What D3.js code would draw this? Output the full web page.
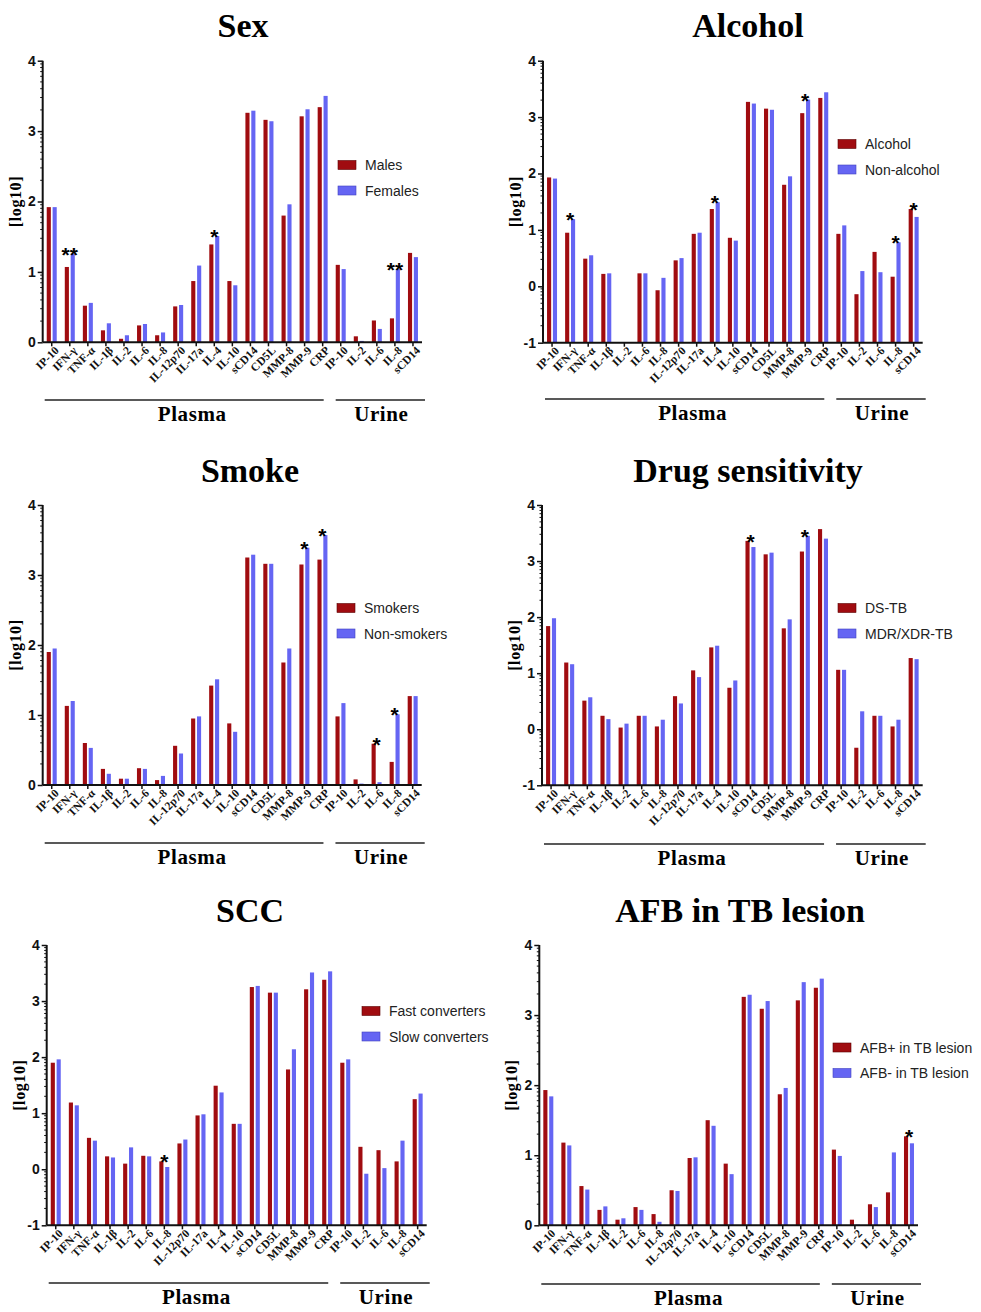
<!DOCTYPE html>
<html><head><meta charset="utf-8">
<script src="https://cdn.jsdelivr.net/npm/d3@7"></script>
<style>body{margin:0;background:#fff}</style>
</head><body>
<svg id="c" width="981" height="1312"></svg>
<script>
// ---------- data ----------
const categories = ["IP-10","IFN-γ","TNF-α","IL-1β","IL-2","IL-6","IL-8","IL-12p70","IL-17a","IL-4","IL-10","sCD14","CD5L","MMP-8","MMP-9","CRP","IP-10","IL-2","IL-6","IL-8","sCD14"];
const plasmaCount = 16;
const sampleLabels = ["Plasma","Urine"];
const yTicksPos = [0,1,2,3,4];
const yTicksNeg = [-1,0,1,2,3,4];

const sexMales     = [1.92,1.07,0.52,0.17,0.05,0.24,0.10,0.51,0.87,1.39,0.87,3.26,3.16,1.80,3.21,3.34,1.10,0.085,0.31,0.34,1.27];
const sexFemales   = [1.92,1.26,0.56,0.27,0.10,0.26,0.14,0.53,1.09,1.51,0.81,3.29,3.14,1.96,3.31,3.50,1.04,0.02,0.19,1.04,1.21];
const sexStars     = [[1,"**"],[9,"*"],[19,"**"]];

const alcoholYes   = [1.93,0.95,0.49,0.22,null,0.23,-0.07,0.46,0.93,1.37,0.86,3.27,3.15,1.80,3.07,3.34,0.93,-0.14,0.61,0.17,1.37];
const alcoholNo    = [1.91,1.19,0.55,0.23,null,0.23,0.15,0.50,0.95,1.49,0.81,3.24,3.13,1.95,3.31,3.44,1.08,0.27,0.25,0.78,1.23];
const alcoholStars = [[1,"*"],[9,"*"],[14,"*"],[19,"*"],[20,"*"]];

const smokers      = [1.90,1.13,0.60,0.23,0.09,0.24,0.07,0.56,0.95,1.42,0.88,3.25,3.16,1.75,3.15,3.22,0.98,0.08,0.59,0.33,1.27];
const nonSmokers   = [1.95,1.20,0.53,0.16,0.09,0.23,0.13,0.45,0.98,1.51,0.76,3.29,3.16,1.95,3.39,3.57,1.17,0.02,0.04,1.01,1.27];
const smokeStars   = [[14,"*"],[15,"*"],[18,"*"],[19,"*"]];

const dsTB         = [1.84,1.19,0.51,0.24,0.03,0.24,0.05,0.59,1.05,1.46,0.74,3.36,3.12,1.80,3.17,3.57,1.06,-0.33,0.24,0.05,1.27];
const mdrTB        = [1.98,1.16,0.57,0.18,0.10,0.24,0.17,0.46,0.93,1.49,0.87,3.25,3.15,1.96,3.45,3.40,1.06,0.32,0.24,0.17,1.25];
const drugStars    = [[11,"*"],[14,"*"]];

const fastConv     = [1.90,1.19,0.56,0.23,0.10,0.24,0.14,0.46,0.96,1.49,0.81,3.25,3.15,1.78,3.21,3.38,1.90,0.40,0.34,0.14,1.25];
const slowConv     = [1.96,1.14,0.51,0.21,0.39,0.23,0.04,0.53,0.98,1.37,0.81,3.27,3.15,2.14,3.51,3.53,1.96,-0.08,0.02,0.51,1.35];
const sccStars     = [[6,"*"]];

const afbPos       = [1.93,1.18,0.56,0.22,0.08,0.26,0.16,0.50,0.96,1.50,0.88,3.26,3.09,1.87,3.21,3.39,1.08,0.08,0.30,0.47,1.27];
const afbNeg       = [1.84,1.14,0.51,0.27,0.10,0.22,0.05,0.49,0.97,1.42,0.73,3.29,3.20,1.96,3.47,3.52,0.99,0.01,0.26,1.04,1.17];
const afbStars     = [[20,"*"]];

const seriesColors = ["#a00c10","#6565f3"];

// ---------- layout ----------
const panels = [
  {title:"Sex", names:["Males","Females"], a:sexMales, b:sexFemales, stars:sexStars, ticks:yTicksPos,
   x0:42.7, x1:422, yT:60.7, yB:342.3, tx:243, ty:37, lx:338, ly:165, lineY:400},
  {title:"Alcohol", names:["Alcohol","Non-alcohol"], a:alcoholYes, b:alcoholNo, stars:alcoholStars, ticks:yTicksNeg,
   x0:543, x1:922.7, yT:60.7, yB:342.7, tx:748, ty:37, lx:838, ly:144, lineY:399},
  {title:"Smoke", names:["Smokers","Non-smokers"], a:smokers, b:nonSmokers, stars:smokeStars, ticks:yTicksPos,
   x0:42.7, x1:421.7, yT:505, yB:785, tx:250, ty:482, lx:337, ly:608, lineY:843},
  {title:"Drug sensitivity", names:["DS-TB","MDR/XDR-TB"], a:dsTB, b:mdrTB, stars:drugStars, ticks:yTicksNeg,
   x0:542, x1:922.7, yT:505, yB:785.3, tx:748, ty:482, lx:838, ly:608, lineY:844},
  {title:"SCC", names:["Fast converters","Slow converters"], a:fastConv, b:slowConv, stars:sccStars, ticks:yTicksNeg,
   x0:46.7, x1:426.7, yT:945, yB:1225.3, tx:250, ty:922, lx:362, ly:1011, lineY:1283},
  {title:"AFB in TB lesion", names:["AFB+ in TB lesion","AFB- in TB lesion"], a:afbPos, b:afbNeg, stars:afbStars, ticks:yTicksPos,
   x0:539.3, x1:918, yT:945, yB:1225.3, tx:740, ty:922, lx:833, ly:1047.5, lineY:1284}
];

const svg = d3.select("#c");
const serif = "'Liberation Serif','Times New Roman',serif";
const sans = "'Liberation Sans',Arial,Helvetica,sans-serif";

panels.forEach(p => {
  const g = svg.append("g");
  const idx = d3.range(categories.length);
  const x = d3.scaleBand().domain(idx).range([p.x0, p.x1]).paddingOuter(0);
  const xs = d3.scaleBand().domain([0,1]).range([0, 10]).paddingInner(0.3);
  const yMin = p.ticks[0], yMax = p.ticks[p.ticks.length-1];
  const y = d3.scaleLinear().domain([yMin, yMax]).range([p.yB, p.yT]);
  const cx = i => x(i) + x.bandwidth()/2;

  // title
  g.append("text").attr("x", p.tx).attr("y", p.ty).attr("text-anchor","middle")
    .attr("font-family", serif).attr("font-weight","bold").attr("font-size", 34).text(p.title);

  // bars
  [p.a, p.b].forEach((vals, s) => {
    g.append("g").selectAll("rect").data(idx.filter(i => vals[i] !== null)).join("rect")
      .attr("x", i => cx(i) - 5 + xs(s))
      .attr("width", xs.bandwidth())
      .attr("y", i => y(Math.max(vals[i], yMin)))
      .attr("height", i => y(yMin) - y(Math.max(vals[i], yMin)))
      .attr("fill", seriesColors[s]);
  });

  // stars
  g.append("g").selectAll("text").data(p.stars).join("text")
    .attr("x", d => cx(d[0]))
    .attr("y", d => y(Math.max(p.a[d[0]], p.b[d[0]])) + 8)
    .attr("text-anchor","middle").attr("font-family", sans).attr("font-weight","bold")
    .attr("font-size", 21).text(d => d[1]);

  // y axis with major ticks
  const yAxis = d3.axisLeft(y).tickValues(p.ticks).tickFormat(d => String(d)).tickSize(5).tickPadding(2);
  const ya = g.append("g").attr("transform", `translate(${p.x0},0)`).call(yAxis);
  ya.select(".domain").attr("stroke","#111").attr("stroke-width",2).attr("d", `M0,${p.yT}V${p.yB}`);
  ya.selectAll(".tick line").attr("stroke","#111").attr("stroke-width",1.5);
  ya.selectAll(".tick text").attr("font-family", sans).attr("font-weight","bold").attr("font-size", 14).attr("fill","#111");
  // minor log ticks
  const minor = [];
  for (let v = yMin; v < yMax; v++) for (let k = 2; k <= 9; k++) minor.push(v + Math.log10(k));
  g.append("g").selectAll("line").data(minor).join("line")
    .attr("x1", p.x0 - 2.5).attr("x2", p.x0).attr("y1", d => y(d)).attr("y2", d => y(d))
    .attr("stroke","#111").attr("stroke-width",1);

  // y label
  const ymid = (p.yT + p.yB)/2;
  g.append("text").attr("transform", `translate(${p.x0 - 22},${ymid}) rotate(-90)`)
    .attr("text-anchor","middle").attr("font-family", serif).attr("font-weight","bold")
    .attr("font-size", 16).attr("letter-spacing", 0.6).text("[log10]");

  // x axis
  const xAxis = d3.axisBottom(x).tickFormat(i => categories[i]).tickSize(4).tickPadding(2);
  const xa = g.append("g").attr("transform", `translate(0,${p.yB})`).call(xAxis);
  xa.select(".domain").attr("stroke","#111").attr("stroke-width",2).attr("d", `M${p.x0},0H${p.x1}`);
  xa.selectAll(".tick line").attr("stroke","#111").attr("stroke-width",1.5);
  xa.selectAll(".tick text").attr("font-family", serif).attr("font-weight","bold").attr("font-size", 11.5)
    .attr("fill","#111").attr("text-anchor","end")
    .attr("transform","translate(5,6) rotate(-45)").attr("dy","0.35em").attr("y",0).attr("x",0);

  // sample group lines and labels
  const mid = (cx(plasmaCount - 1) + cx(plasmaCount)) / 2;
  const segs = [[p.x0 + 2, mid - 8], [mid + 4, p.x1 + 3]];
  segs.forEach((sgm, k) => {
    g.append("line").attr("x1", sgm[0]).attr("x2", sgm[1]).attr("y1", p.lineY).attr("y2", p.lineY)
      .attr("stroke","#222").attr("stroke-width",1.6);
    g.append("text").attr("x", (sgm[0] + sgm[1])/2 + (k === 0 ? 8 : 1)).attr("y", p.lineY + 21)
      .attr("text-anchor","middle").attr("font-family", serif).attr("font-weight","bold")
      .attr("font-size", 21).attr("letter-spacing", 0.6).text(sampleLabels[k]);
  });

  // legend
  p.names.forEach((nm, k) => {
    const ly = p.ly + k * 25.5;
    g.append("rect").attr("x", p.lx).attr("y", ly - 4.5).attr("width", 18).attr("height", 9)
      .attr("fill", seriesColors[k]).attr("stroke", k === 0 ? "#5a0000" : "#4040c0").attr("stroke-width", 0.6);
    g.append("text").attr("x", p.lx + 27).attr("y", ly + 5).attr("font-family", sans)
      .attr("font-size", 14).attr("fill","#222").text(nm);
  });
});
</script>
</body></html>
